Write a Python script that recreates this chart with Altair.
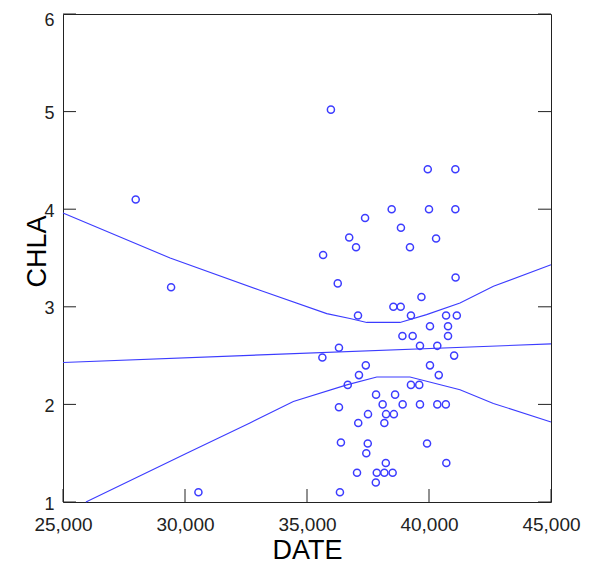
import altair as alt
import pandas as pd

# ---- data ----
date = [27980, 29430, 30550, 35980, 39950, 41080, 38470, 40000, 41080, 37380,
        38850, 36730, 40290, 37010, 39220, 35660, 36260, 41090, 39690, 38540,
        38840, 37090, 39260, 40700, 41140, 40040, 40780, 38910, 39330, 40780,
        39630, 40340, 36310, 35630, 41030, 37410, 40040, 37130, 40400, 36670,
        39260, 39600, 37830, 38610, 36310, 38100, 38920, 39630, 40340, 40690,
        37500, 38240, 38560, 37100, 38170, 36390, 37490, 39920, 37430, 40710,
        38230, 37050, 37860, 38170, 38510, 37820, 36350]
chla = [4.10, 3.20, 1.10, 5.02, 4.41, 4.41, 4.00, 4.00, 4.00, 3.91,
        3.81, 3.71, 3.70, 3.61, 3.61, 3.53, 3.24, 3.30, 3.10, 3.00,
        3.00, 2.91, 2.91, 2.91, 2.91, 2.80, 2.80, 2.70, 2.70, 2.70,
        2.60, 2.60, 2.58, 2.48, 2.50, 2.40, 2.40, 2.30, 2.30, 2.20,
        2.20, 2.20, 2.10, 2.10, 1.97, 2.00, 2.00, 2.00, 2.00, 2.00,
        1.90, 1.90, 1.90, 1.81, 1.81, 1.61, 1.60, 1.60, 1.50, 1.40,
        1.40, 1.30, 1.30, 1.30, 1.30, 1.20, 1.10]

upper_date = [25000, 29390, 33070, 35810, 36760, 37450, 38810, 39900, 41270, 42640, 45000]
upper = [3.96, 3.50, 3.17, 2.93, 2.88, 2.84, 2.84, 2.92, 3.04, 3.21, 3.43]

lower_date = [25940, 30070, 32660, 34440, 36630, 37860, 39220, 41270, 42640, 45000]
lower = [1.00, 1.50, 1.81, 2.03, 2.20, 2.28, 2.28, 2.15, 2.01, 1.82]

fit_date = [25000, 45000]
fit = [2.43, 2.62]

x_ticks = [25000, 30000, 35000, 40000, 45000]
y_ticks = [1, 2, 3, 4, 5, 6]

# ---- style ----
BLUE = "#3c3cff"
FONT = "'Liberation Sans', Arial, sans-serif"
W, H = 488, 488
TICK = 13

xscale = alt.Scale(domain=[25000, 45000], nice=False, zero=False)
yscale = alt.Scale(domain=[1, 6], nice=False, zero=False)

pts = pd.DataFrame({"DATE": date, "CHLA": chla})
up = pd.DataFrame({"DATE": upper_date, "CHLA": upper})
lo = pd.DataFrame({"DATE": lower_date, "CHLA": lower})
ft = pd.DataFrame({"DATE": fit_date, "CHLA": fit})
yt = pd.DataFrame({"v": y_ticks})
xt = pd.DataFrame({"v": x_ticks})

xaxis = alt.Axis(values=x_ticks, format=",d", ticks=False, domain=False, grid=False,
                 labelFlush=False, labelOverlap=False,
                 labelFont=FONT, labelFontSize=19, labelColor="#222", labelPadding=13,
                 titleFont=FONT, titleFontSize=27, titleFontWeight="normal",
                 titleColor="#000", titlePadding=3)
yaxis = alt.Axis(values=y_ticks, format="d", ticks=False, domain=False, grid=False,
                 labelFlush=False, labelOverlap=False,
                 labelFont=FONT, labelFontSize=18, labelColor="#222", labelPadding=9,
                 labelOffset={"condition": {"test": "datum.value == 6", "value": 6}, "value": 2},
                 titleFont=FONT, titleFontSize=27, titleFontWeight="normal",
                 titleColor="#000", titleBaseline="alphabetic",
                 titleX=-18, titleY=237)

points = alt.Chart(pts).mark_point(shape="circle", filled=False, color=BLUE,
                                   size=50, strokeWidth=1.5, opacity=1).encode(
    x=alt.X("DATE:Q", scale=xscale, axis=xaxis, title="DATE"),
    y=alt.Y("CHLA:Q", scale=yscale, axis=yaxis, title="CHLA"),
)

def line(df):
    return alt.Chart(df).mark_line(color=BLUE, strokeWidth=1.1).encode(
        x=alt.X("DATE:Q", scale=xscale),
        y=alt.Y("CHLA:Q", scale=yscale),
    )

left_ticks = alt.Chart(yt).mark_rule(color="#222", strokeWidth=1).encode(
    y=alt.Y("v:Q", scale=yscale), x=alt.value(0), x2=alt.value(TICK))
right_ticks = alt.Chart(yt).mark_rule(color="#222", strokeWidth=1).encode(
    y=alt.Y("v:Q", scale=yscale), x=alt.value(W - TICK), x2=alt.value(W))
bottom_ticks = alt.Chart(xt).mark_rule(color="#222", strokeWidth=1).encode(
    x=alt.X("v:Q", scale=xscale), y=alt.value(H), y2=alt.value(H - TICK))

chart = alt.layer(
    left_ticks, right_ticks, bottom_ticks,
    line(up), line(lo), line(ft), points,
).properties(
    width=W, height=H,
    autosize=alt.AutoSizeParams(type="none"),
    padding={"left": 55, "top": 6, "right": 32, "bottom": 69},
    background="white",
).configure_view(stroke="#222", strokeWidth=1)

chart.save("out.html", embed_options={"renderer": "svg", "actions": False})
